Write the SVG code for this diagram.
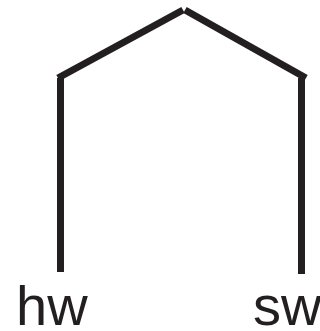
<svg xmlns="http://www.w3.org/2000/svg" width="320" height="331" viewBox="0 0 320 331">
<style>
.e{stroke:#231f20;stroke-width:7;fill:none;stroke-linecap:butt}
.t{font-family:"Liberation Sans",Arial,sans-serif;font-size:56px;fill:#231f20}
</style>
<rect width="320" height="331" fill="#fff"/>
<g id="connectors">
<line class="e" x1="60.5" y1="78" x2="60.5" y2="272"/>
<line class="e" x1="58" y1="78" x2="183" y2="10"/>
<line class="e" x1="185" y1="10" x2="306" y2="78"/>
<line class="e" x1="301.5" y1="78" x2="301.5" y2="274"/>
</g>
<g id="hw"><text class="t" x="16" y="325">hw</text></g>
<g id="sw"><text class="t" x="253" y="325">sw</text></g>
</svg>
